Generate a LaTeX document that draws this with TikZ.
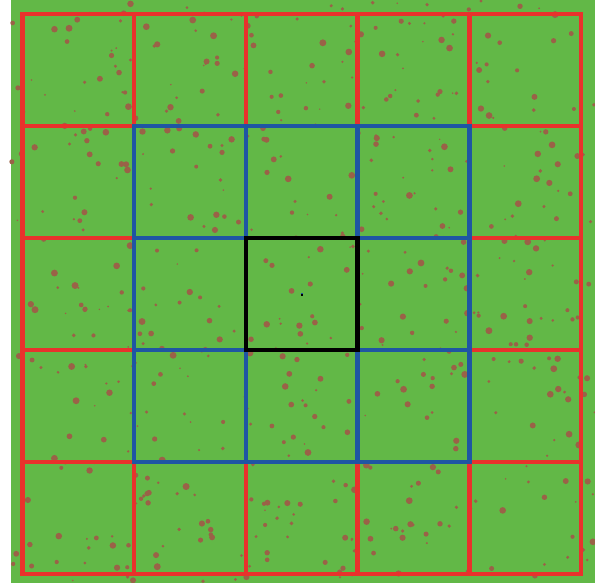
\documentclass[tikz,border=0pt]{standalone}
\definecolor{grass}{HTML}{62B847}
\definecolor{soil}{HTML}{9A6247}
\definecolor{fence}{HTML}{E8322C}
\definecolor{ring}{HTML}{1F56A3}
\begin{document}
\begin{tikzpicture}[x=1pt, y=-1pt]
  \useasboundingbox (0,0) rectangle (595,583);
  \fill[grass] (11,0) rectangle (595,583);

  % scattered seeds
  \pgfmathsetseed{4217}
  \foreach \i in {1,...,580} {
    \pgfmathsetmacro{\px}{11+584*rnd}
    \pgfmathsetmacro{\py}{583*rnd}
    \pgfmathsetmacro{\pr}{0.8+2.7*rnd}
    \fill[soil] (\px,\py) circle (\pr pt);
  }

  % outer field, 5 x 5 cells
  \begin{scope}[fence, line width=4.5pt]
    \draw (22.5,14) rectangle (581,574);
    \foreach \k in {1,...,4} {
      \draw ({22.5+111.7*\k},14) -- ({22.5+111.7*\k},574);
      \draw (22.5,{14+112*\k}) -- (581,{14+112*\k});
    }
  \end{scope}

  % inner ring, 3 x 3 cells
  \begin{scope}[ring, line width=4.5pt]
    \draw (134.2,126) rectangle (469.3,462);
    \draw (245.9,126) -- (245.9,462);
    \draw (357.6,126) -- (357.6,462);
    \draw (134.2,238) -- (469.3,238);
    \draw (134.2,350) -- (469.3,350);
  \end{scope}

  % centre cell
  \draw[black, line width=4.5pt] (245.9,238) rectangle (357.6,350);
  \fill[ring] (301,292.5) rectangle (303,294);
  \fill[black] (301,294) rectangle (303,296);
\end{tikzpicture}
\end{document}
